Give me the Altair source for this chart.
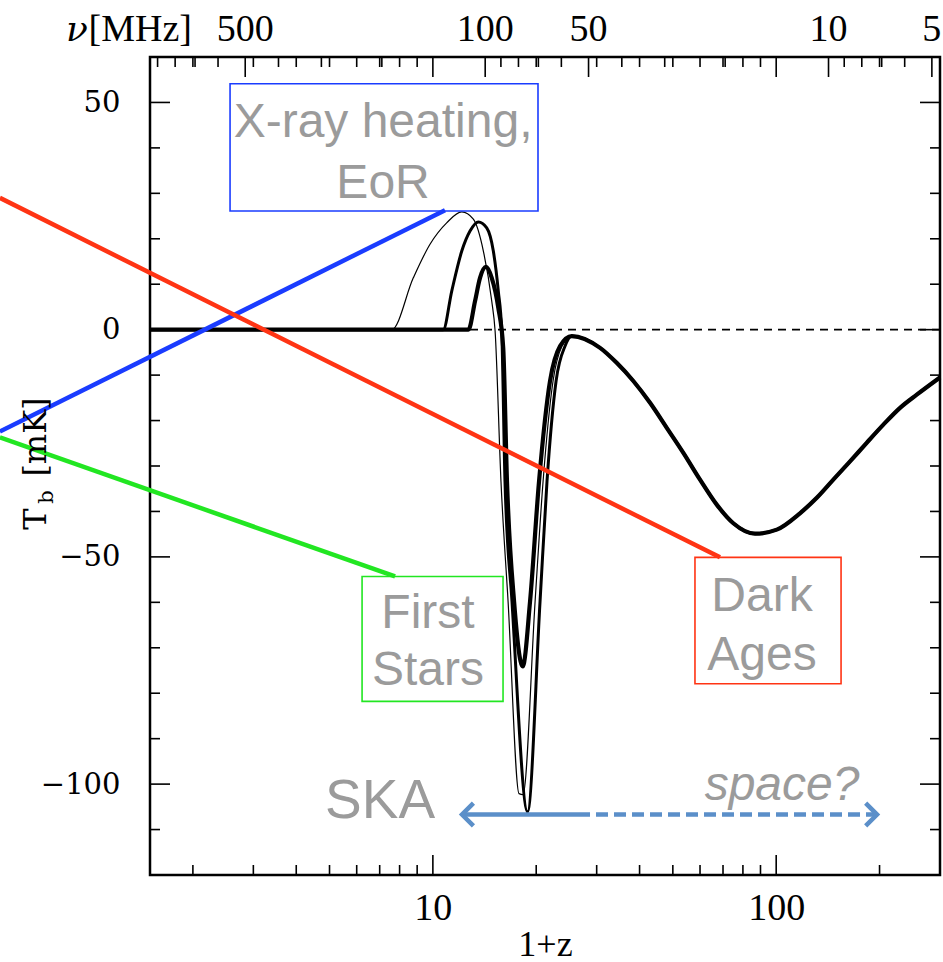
import altair as alt
import pandas as pd

W, H = 790, 818
NU0 = 1420.4

# ---- 21-cm global signal curves: (1+z, T_b [mK]) ----
thin_z = [1.5, 7.59, 8.77, 9.81, 10.97, 12.14, 13.12, 14.03, 14.84, 15.18, 15.79, 16.56, 17.82, 18.31, 19.85, 20.94, 22.39, 23.78]
thin_t = [0, 0, 11.4, 18.8, 23.5, 25.9, 24.3, 17.3, 6.3, -0.3, -33.4, -59.8, -102.1, -102.3, -59.8, -33.4, -11.3, -3.6]
mid_z = [1.5, 10.72, 11.35, 12.14, 12.83, 13.57, 14.35, 15.00, 15.51, 15.87, 16.22, 17.0, 18.87, 20.52, 21.5, 22.85, 24.27]
mid_t = [0, 0, 8.5, 17.3, 21.7, 23.7, 22.4, 17.3, 8.5, -0.3, -33.4, -59.8, -106.1, -59.8, -33.4, -11.3, -3.6]
thick_z = [1.5, 12.69, 13.27, 13.72, 14.28, 14.84, 15.51, 16.03, 16.44, 17.24, 18.27, 19.19, 20.38, 21.94, 23.47]
thick_t = [0, 0, 6.3, 11.4, 13.8, 11.4, 4.8, -4.0, -33.4, -59.8, -74.1, -59.8, -33.4, -11.3, -3.6]
tail_z = [25.38, 30.69, 34.31, 38.36, 42.91, 48.0, 53.65, 60.0, 67.11, 75.0, 86.78, 100.4, 117.3, 131.3, 146.7, 164.1, 183.5, 205.2, 229.5, 256.7, 300]
tail_t = [-1.4, -4.0, -7.3, -11.3, -16.1, -21.6, -27.1, -33.0, -38.5, -42.6, -44.9, -44.0, -40.4, -37.0, -33.0, -29.0, -24.9, -20.9, -17.2, -14.3, -10.5]
zero_line = [0]

# ---- annotation pointer lines ----
blue_z, blue_t = [0.548, 10.85], [-22.4, 26.3]
red_z, red_t = [0.548, 68.6], [29.0, -50.1]
green_z, green_t = [0.548, 7.76], [-23.7, -54.3]

# ---- annotation boxes (z0, z1, t0, t1) ----
blue_box = [2.566, 20.24, 54.1, 26.1]
green_box = [6.22, 16.01, -54.3, -81.8]
red_box = [58.0, 154.5, -50.1, -77.9]

# ---- annotation texts ----
box_text = ["X-ray heating,", "EoR", "First", "Stars", "Dark", "Ages"]
box_text_z = [7.16, 7.16, 9.68, 9.68, 90.9, 90.9]
box_text_t = [42.5, 28.9, -65.6, -78.1, -62.0, -74.9]
ska_text, ska_z, ska_t = ["SKA"], [7.02], [-107.4]
space_text, space_z, space_t = ["space?"], [104.0], [-103.6]

# ---- SKA / space arrow ----
arrow_solid = [12.16, 26.47]
arrow_dash = [26.47, 196.7]
arrow_t = [-106.7]

# ---- ticks and labels ----
z_minor = [2, 3, 4, 5, 6, 7, 8, 9, 20, 30, 40, 50, 60, 70, 80, 90, 200]
z_major = [10, 100]
nu_minor = [900, 800, 700, 600, 400, 300, 200, 90, 80, 70, 60, 40, 30, 20, 9, 8, 7, 6]
nu_major = [500, 100, 50, 10, 5]
t_minor = [-110, -90, -80, -70, -60, -40, -30, -20, -10, 10, 20, 30, 40]
t_major = [-100, -50, 0, 50]
freq_symbol = ["ν"]
freq_unit = ["[MHz]"]
ytitle_main = ["T"]
ytitle_sub = ["b"]
ytitle_unit = ["[mK]"]

SERIF_X = "Liberation Serif"
SERIF_Y = "DejaVu Serif"
SANS = "Liberation Sans"
GRAY = "#9b9b9b"
ARROW = "#5b8fc9"
BLUE, RED, GREEN = "#1a3cff", "#ff3414", "#22e622"

xs = alt.Scale(type="log", domain=[1.5, 300], nice=False)
ys = alt.Scale(domain=[-120, 60], nice=False)

xaxis = alt.Axis(values=z_major, format="d", ticks=False, domain=False, grid=False,
                 labelFont=SERIF_X, labelFontSize=38, labelColor="black", labelPadding=14,
                 title="1+z", titleFont=SERIF_X, titleFontSize=36, titleFontWeight="normal",
                 titleColor="black", titleY=80, titleBaseline="alphabetic")
yaxis = alt.Axis(values=t_major, ticks=False, domain=False, grid=False,
                 labelFont=SERIF_Y, labelFontSize=29, labelColor="black", labelPadding=30,
                 title=None)


def X(f):
    return alt.X(f, scale=xs, axis=xaxis)


def Y(f):
    return alt.Y(f, scale=ys, axis=yaxis)


layers = []

# zero dashed line
layers.append(alt.Chart(pd.DataFrame({"t": zero_line})).mark_rule(
    color="black", strokeWidth=1.6, strokeDash=[8, 6]).encode(y=Y("t:Q")))

# curves
for z, t, w in [(thin_z, thin_t, 1.2), (mid_z, mid_t, 3.0), (thick_z, thick_t, 4.2)]:
    df = pd.DataFrame({"z": z + tail_z, "t": t + tail_t})
    layers.append(alt.Chart(df).mark_line(color="black", strokeWidth=w, interpolate="monotone",
                                          strokeJoin="round").encode(x=X("z:Q"), y=Y("t:Q")))

# boxes
for b, c in [(blue_box, BLUE), (green_box, GREEN), (red_box, RED)]:
    df = pd.DataFrame({"z0": [b[0]], "z1": [b[1]], "t0": [b[2]], "t1": [b[3]]})
    layers.append(alt.Chart(df).mark_rect(fillOpacity=0, stroke=c, strokeWidth=1.6).encode(
        x=X("z0:Q"), x2="z1:Q", y=Y("t0:Q"), y2="t1:Q"))

# pointer lines
for z, t, c in [(blue_z, blue_t, BLUE), (red_z, red_t, RED), (green_z, green_t, GREEN)]:
    df = pd.DataFrame({"z": z, "t": t})
    layers.append(alt.Chart(df).mark_line(color=c, strokeWidth=4.5, clip=False).encode(
        x=X("z:Q"), y=Y("t:Q")))

# box texts
layers.append(alt.Chart(pd.DataFrame({"z": box_text_z, "t": box_text_t, "s": box_text})).mark_text(
    font=SANS, fontSize=48, color=GRAY, align="center", baseline="alphabetic").encode(
    x=X("z:Q"), y=Y("t:Q"), text="s:N"))
layers.append(alt.Chart(pd.DataFrame({"z": ska_z, "t": ska_t, "s": ska_text})).mark_text(
    font=SANS, fontSize=55, color=GRAY, align="center", baseline="alphabetic").encode(
    x=X("z:Q"), y=Y("t:Q"), text="s:N"))
layers.append(alt.Chart(pd.DataFrame({"z": space_z, "t": space_t, "s": space_text})).mark_text(
    font=SANS, fontSize=48, fontStyle="italic", color=GRAY, align="center", baseline="alphabetic").encode(
    x=X("z:Q"), y=Y("t:Q"), text="s:N"))

# arrow
layers.append(alt.Chart(pd.DataFrame({"z0": [arrow_solid[0]], "z1": [arrow_solid[1]], "t": arrow_t})).mark_rule(
    color=ARROW, strokeWidth=4.5, strokeCap="butt").encode(x=X("z0:Q"), x2="z1:Q", y=Y("t:Q")))
layers.append(alt.Chart(pd.DataFrame({"z0": [arrow_dash[0]], "z1": [arrow_dash[1]], "t": arrow_t})).mark_rule(
    color=ARROW, strokeWidth=4.5, strokeDash=[12, 6], strokeCap="butt").encode(x=X("z0:Q"), x2="z1:Q", y=Y("t:Q")))
layers.append(alt.Chart(pd.DataFrame({"z": [arrow_solid[0]], "t": arrow_t})).mark_point(
    shape="M1,-1L0,0L1,1", filled=False, size=520, strokeWidth=4.5, color=ARROW, opacity=1).encode(
    x=X("z:Q"), y=Y("t:Q")))
layers.append(alt.Chart(pd.DataFrame({"z": [arrow_dash[1]], "t": arrow_t})).mark_point(
    shape="M-1,-1L0,0L-1,1", filled=False, size=520, strokeWidth=4.5, color=ARROW, opacity=1).encode(
    x=X("z:Q"), y=Y("t:Q")))

# ticks: bottom / top (1+z), top (frequency), left / right (T_b)
def zticks(vals, top, length):
    y0 = 0 if top else H
    y1 = length if top else H - length
    return alt.Chart(pd.DataFrame({"v": vals})).mark_rule(color="black", strokeWidth=1.6).encode(
        x=X("v:Q"), y=alt.value(y0), y2=alt.value(y1))


def nuticks(vals, length):
    return alt.Chart(pd.DataFrame({"nu": vals})).transform_calculate(
        fz=f"{NU0}/datum.nu").mark_rule(color="black", strokeWidth=1.6).encode(
        x=X("fz:Q"), y=alt.value(0), y2=alt.value(length))


def tticks(vals, right, length):
    x0 = W if right else 0
    x1 = W - length if right else length
    return alt.Chart(pd.DataFrame({"v": vals})).mark_rule(color="black", strokeWidth=1.6).encode(
        y=Y("v:Q"), x=alt.value(x0), x2=alt.value(x1))


layers += [zticks(z_minor, False, 10), zticks(z_major, False, 20),
           zticks(z_minor, True, 10), zticks(z_major, True, 20),
           nuticks(nu_minor, 10), nuticks(nu_major, 20),
           tticks(t_minor, False, 10), tticks(t_major, False, 20),
           tticks(t_minor, True, 10), tticks(t_major, True, 20)]

# top frequency labels
layers.append(alt.Chart(pd.DataFrame({"nu": nu_major})).transform_calculate(
    fz=f"{NU0}/datum.nu").mark_text(font=SERIF_X, fontSize=38, color="black", baseline="alphabetic").encode(
    x=X("fz:Q"), y=alt.value(-16), text=alt.Text("nu:Q", format="d")))
layers.append(alt.Chart(pd.DataFrame({"s": freq_unit})).mark_text(
    font=SERIF_X, fontSize=38, color="black", align="right", baseline="alphabetic").encode(
    x=alt.value(42), y=alt.value(-16), text="s:N"))
layers.append(alt.Chart(pd.DataFrame({"s": freq_symbol})).mark_text(
    font=SERIF_Y, fontSize=36, fontStyle="italic", color="black", align="right", baseline="alphabetic").encode(
    x=alt.value(-62), y=alt.value(-16), text="s:N"))

# y title: T_b [mK]
layers.append(alt.Chart(pd.DataFrame({"s": ytitle_main})).mark_text(
    font=SERIF_Y, fontSize=32, color="black", angle=270, align="center", baseline="middle").encode(
    x=alt.value(-114), y=alt.value(462), text="s:N"))
layers.append(alt.Chart(pd.DataFrame({"s": ytitle_sub})).mark_text(
    font=SERIF_Y, fontSize=21, color="black", angle=270, align="center", baseline="middle").encode(
    x=alt.value(-103), y=alt.value(440), text="s:N"))
layers.append(alt.Chart(pd.DataFrame({"s": ytitle_unit})).mark_text(
    font=SERIF_Y, fontSize=32, color="black", angle=270, align="center", baseline="middle").encode(
    x=alt.value(-114), y=alt.value(380), text="s:N"))

chart = alt.layer(*layers).properties(
    width=W, height=H,
    autosize=alt.AutoSizeParams(type="none"),
    padding={"left": 150, "top": 57, "right": 3, "bottom": 87},
).configure_view(stroke="black", strokeWidth=2.5)

chart.save("out.html", embed_options={"renderer": "svg", "actions": False})
